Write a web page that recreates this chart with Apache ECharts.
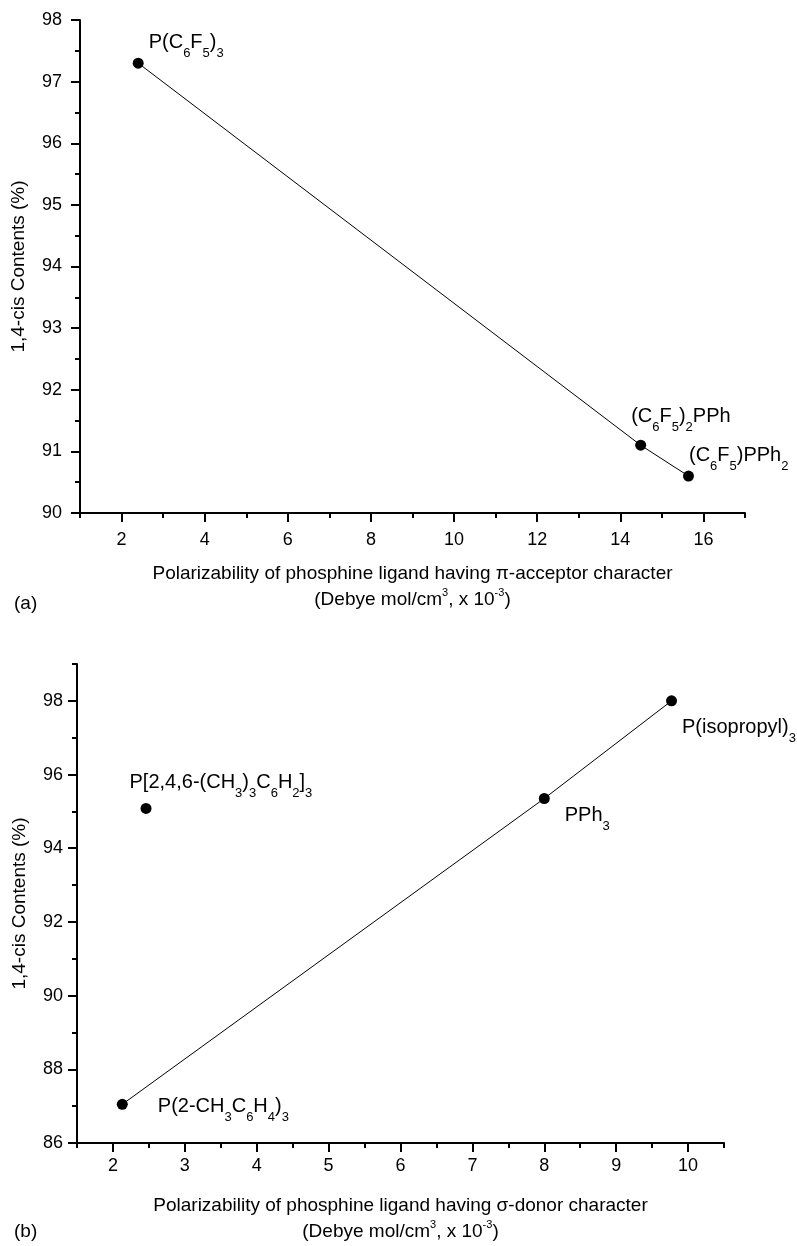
<!DOCTYPE html>
<html>
<head>
<meta charset="utf-8">
<script src="https://cdn.jsdelivr.net/npm/echarts@6/dist/echarts.min.js"></script>
<style>
html,body{margin:0;padding:0;background:#fff;}
#chart{width:797px;height:1246px;}
</style>
</head>
<body>
<div id="chart"></div>
<script>
// ---- data (a) ----
const aNames = ['P(C{s|6}F{s|5}){s|3}', '(C{s|6}F{s|5}){s|2}PPh', '(C{s|6}F{s|5})PPh{s|2}'];
const aX = [2.40, 14.49, 15.64];
const aY = [97.30, 91.10, 90.60];
const aXMajor = [2, 4, 6, 8, 10, 12, 14, 16];
const aXMinor = [1, 3, 5, 7, 9, 11, 13, 15, 17];
const aYMajor = [90, 91, 92, 93, 94, 95, 96, 97, 98];
const aYMinor = [90.5, 91.5, 92.5, 93.5, 94.5, 95.5, 96.5, 97.5];

// ---- data (b) ----
const bLineNames = ['P(2-CH{s|3}C{s|6}H{s|4}){s|3}', 'PPh{s|3}', 'P(isopropyl){s|3}'];
const bLineX = [2.13, 8.00, 9.77];
const bLineY = [87.05, 95.35, 98.00];
const bSoloNames = ['P[2,4,6-(CH{s|3}){s|3}C{s|6}H{s|2}]{s|3}'];
const bSoloX = [2.46];
const bSoloY = [95.08];
const bXMajor = [2, 3, 4, 5, 6, 7, 8, 9, 10];
const bXMinor = [1.5, 2.5, 3.5, 4.5, 5.5, 6.5, 7.5, 8.5, 9.5, 10.5];
const bYMajor = [86, 88, 90, 92, 94, 96, 98];
const bYMinor = [87, 89, 91, 93, 95, 97, 99];

// ---- layout / style ----
const F = 'Arial, "Liberation Sans", sans-serif';
const aLabelOffsets = [[0, -21], [-20, -29], [-10, -21]];
const bLineLabelOffsets = [[25, 2], [10, 17], [0, 27]];
const bSoloLabelOffsets = [[-27, -26]];

const rich = {
  s: {fontSize: 13, fontFamily: F, color: '#000', padding: [22, 0, 0, 0]},
  p: {fontSize: 11, fontFamily: F, color: '#000', padding: [0, 0, 14, 0]}
};

function pts(xs, ys, names, offs) {
  return xs.map((x, i) => ({
    value: [x, ys[i]],
    name: names[i],
    label: {offset: offs[i]}
  }));
}

const lineCol = '#000';
function mainAxis(grid, min, max, major, margin, extra) {
  return Object.assign({
    type: 'value', gridIndex: grid, min: min, max: max,
    axisLine: {show: true, onZero: false, lineStyle: {color: lineCol, width: 2}},
    axisTick: {show: true, customValues: major, length: 9, lineStyle: {color: lineCol, width: 2}},
    axisLabel: {show: true, customValues: major, color: '#000', fontSize: 18, fontFamily: F, margin: margin},
    splitLine: {show: false}
  }, extra || {});
}
function minorAxis(grid, min, max, minor, pos) {
  return {
    type: 'value', gridIndex: grid, min: min, max: max, position: pos,
    axisLine: {show: false, onZero: false},
    axisTick: {show: true, customValues: minor, length: 5, lineStyle: {color: lineCol, width: 2}},
    axisLabel: {show: false},
    splitLine: {show: false}
  };
}

const yName = '1,4-cis Contents (%)';
const labelBase = {show: true, position: 'right', color: '#000', fontSize: 20, fontFamily: F, rich: rich,
  formatter: p => p.name};
const titleStyle = {color: '#000', fontSize: 19, fontFamily: F, lineHeight: 26, rich: rich};

const option = {
  animation: false,
  backgroundColor: '#fff',
  grid: [
    {left: 80, top: 20, width: 665, height: 493},
    {left: 77, top: 664, width: 647, height: 482}
  ],
  xAxis: [
    mainAxis(0, 1, 17, aXMajor, 18, {
      name: 'Polarizability of phosphine ligand having π-acceptor character\n(Debye mol/cm{p|3}, x 10{p|-3})',
      nameLocation: 'middle', nameGap: 48, nameTextStyle: titleStyle
    }),
    minorAxis(0, 1, 17, aXMinor, 'bottom'),
    mainAxis(1, 1.5, 10.5, bXMajor, 14, {
      name: 'Polarizability of phosphine ligand having σ-donor character\n(Debye mol/cm{p|3}, x 10{p|-3})',
      nameLocation: 'middle', nameGap: 50, nameTextStyle: titleStyle
    }),
    minorAxis(1, 1.5, 10.5, bXMinor, 'bottom')
  ],
  yAxis: [
    mainAxis(0, 90, 98, aYMajor, 18, {
      name: yName, nameLocation: 'middle', nameGap: 52,
      nameTextStyle: {color: '#000', fontSize: 19, fontFamily: F}
    }),
    minorAxis(0, 90, 98, aYMinor, 'left'),
    mainAxis(1, 86, 99, bYMajor, 14, {
      name: yName, nameLocation: 'middle', nameGap: 48,
      nameTextStyle: {color: '#000', fontSize: 19, fontFamily: F}
    }),
    minorAxis(1, 86, 99, bYMinor, 'left')
  ],
  graphic: [
    {type: 'text', left: 14, top: 594, style: {text: '(a)', fill: '#000', fontSize: 19, fontFamily: F}},
    {type: 'text', left: 14, top: 1222, style: {text: '(b)', fill: '#000', fontSize: 19, fontFamily: F}}
  ],
  series: [
    {
      type: 'line', xAxisIndex: 0, yAxisIndex: 0,
      data: pts(aX, aY, aNames, aLabelOffsets),
      symbol: 'circle', symbolSize: 11,
      itemStyle: {color: '#000', opacity: 1},
      lineStyle: {color: '#000', width: 1},
      label: labelBase
    },
    {
      type: 'line', xAxisIndex: 2, yAxisIndex: 2,
      data: pts(bLineX, bLineY, bLineNames, bLineLabelOffsets),
      symbol: 'circle', symbolSize: 11,
      itemStyle: {color: '#000', opacity: 1},
      lineStyle: {color: '#000', width: 1},
      label: labelBase
    },
    {
      type: 'scatter', xAxisIndex: 2, yAxisIndex: 2,
      data: pts(bSoloX, bSoloY, bSoloNames, bSoloLabelOffsets),
      symbol: 'circle', symbolSize: 11,
      itemStyle: {color: '#000', opacity: 1},
      label: labelBase
    }
  ]
};

const chart = echarts.init(document.getElementById('chart'), null, {renderer: 'canvas'});
chart.setOption(option);
</script>
</body>
</html>
